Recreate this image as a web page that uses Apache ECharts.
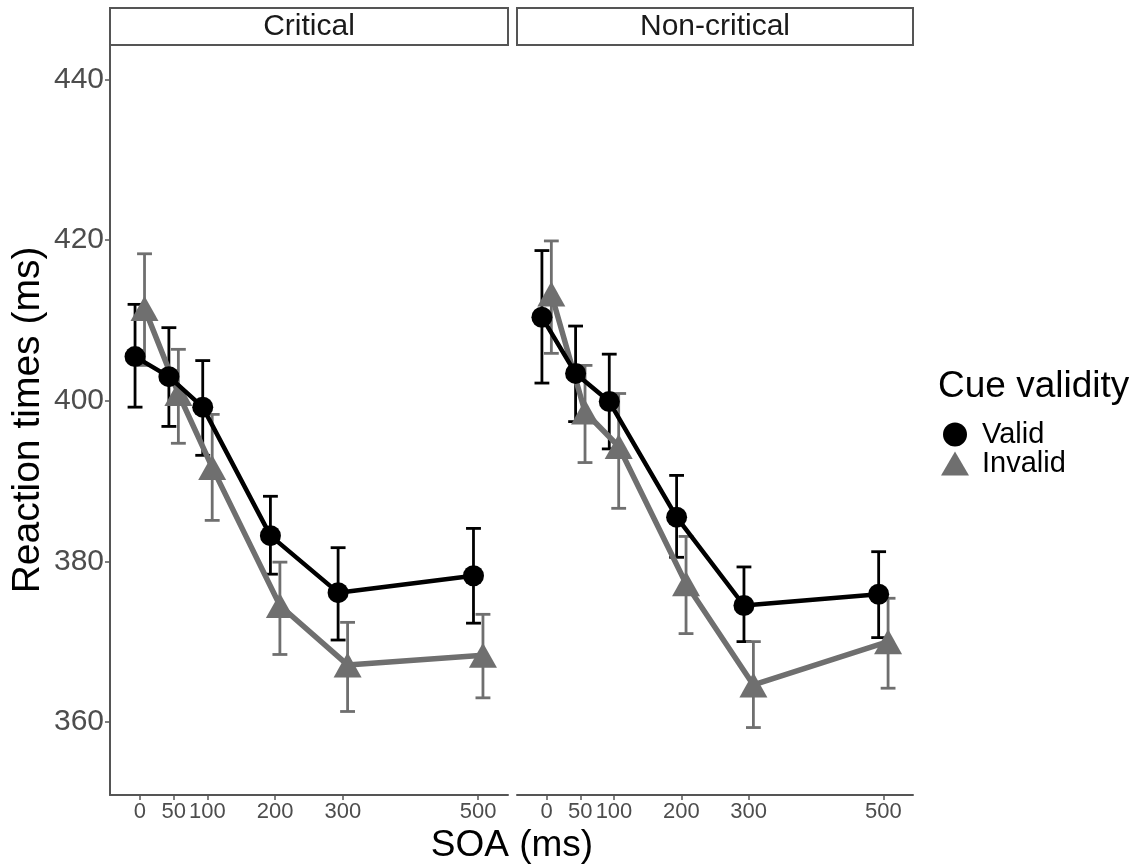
<!DOCTYPE html>
<html>
<head>
<meta charset="utf-8">
<script src="https://cdn.jsdelivr.net/npm/echarts@6/dist/echarts.min.js"></script>
<style>
  html, body { margin: 0; padding: 0; background: #fff; }
  #chart { width: 1137px; height: 867px; }
</style>
</head>
<body>
<div id="chart"></div>
<script>
// 数据
const soa = [0, 50, 100, 200, 300, 500];
const soaTicks = [0, 50, 100, 200, 300, 500];
const yTicks = [360, 380, 400, 420, 440];
const panels = ['Critical', 'Non-critical'];

const critValid = [405.5, 403.0, 399.2, 383.2, 376.1, 378.2];
const critValidLo = [399.2, 396.8, 393.2, 378.4, 370.2, 372.3];
const critValidHi = [412.0, 409.1, 405.0, 388.1, 381.7, 384.1];

const critInvalid = [411.5, 400.9, 391.7, 374.5, 367.1, 368.3];
const critInvalidLo = [404.4, 394.7, 385.1, 368.4, 361.3, 363.0];
const critInvalidHi = [418.3, 406.4, 398.3, 379.9, 372.4, 373.4];

const nonValid = [410.4, 403.4, 399.9, 385.5, 374.5, 375.9];
const nonValidLo = [402.2, 397.4, 394.0, 380.5, 370.0, 370.5];
const nonValidHi = [418.7, 409.3, 405.8, 390.7, 379.3, 381.2];

const nonInvalid = [413.3, 398.6, 394.3, 377.2, 364.6, 370.0];
const nonInvalidLo = [405.9, 392.3, 386.6, 371.0, 359.3, 364.2];
const nonInvalidHi = [419.9, 404.4, 400.9, 383.1, 370.0, 375.4];

const dodge = 7;      // position_dodge 偏移 (ms)
const capWidth = 22;  // 误差线帽宽 (ms)

const FONT = 'Liberation Sans, Arial, Helvetica, sans-serif';
const BLACK = '#000000';
const GREY = '#6f6f6f';
const AXIS = '#555555';

document.addEventListener('DOMContentLoaded', function () {
    initChart();
});

function pointData(values, shift) {
    return values.map(function (v, i) { return [soa[i] + shift, v]; });
}

function barData(lo, hi, shift) {
    return lo.map(function (v, i) { return [soa[i] + shift, v, hi[i]]; });
}

function errorBarRenderer(color) {
    return function (params, api) {
        const x = api.value(0);
        const lo = api.coord([x, api.value(1)]);
        const hi = api.coord([x, api.value(2)]);
        const half = api.coord([x + capWidth / 2, api.value(1)])[0] - lo[0];
        const style = { stroke: color, lineWidth: 2.8, fill: null };
        return {
            type: 'group',
            children: [
                { type: 'line', shape: { x1: lo[0], y1: lo[1], x2: hi[0], y2: hi[1] }, style: style },
                { type: 'line', shape: { x1: lo[0] - half, y1: lo[1], x2: lo[0] + half, y2: lo[1] }, style: style },
                { type: 'line', shape: { x1: hi[0] - half, y1: hi[1], x2: hi[0] + half, y2: hi[1] }, style: style }
            ]
        };
    };
}

function initChart() {
    const chartDom = document.getElementById('chart');
    const myChart = echarts.init(chartDom, null, { renderer: 'canvas' });

    const grids = [
        { left: 110, top: 45, width: 398, height: 750 },
        { left: 517, top: 45, width: 396, height: 750 }
    ];

    const xAxes = grids.map(function (g, i) {
        return {
            type: 'value',
            gridIndex: i,
            min: -44,
            max: 544,
            axisLine: { show: true, onZero: false, lineStyle: { color: AXIS, width: 2 } },
            axisTick: { show: true, length: 5, customValues: soaTicks, lineStyle: { color: AXIS, width: 1.5 } },
            axisLabel: { customValues: soaTicks, color: '#4d4d4d', fontSize: 22, fontFamily: FONT, margin: 6 },
            splitLine: { show: false }
        };
    });

    const yAxes = grids.map(function (g, i) {
        return {
            type: 'value',
            gridIndex: i,
            min: 350.9,
            max: 444.3,
            show: i === 0,
            name: i === 0 ? 'Reaction times (ms)' : '',
            nameLocation: 'middle',
            nameGap: 62,
            nameTextStyle: { color: '#000', fontSize: 39, fontFamily: FONT },
            axisLine: { show: true, onZero: false, lineStyle: { color: AXIS, width: 2 } },
            axisTick: { show: true, length: 5, customValues: yTicks, lineStyle: { color: AXIS, width: 1.5 } },
            axisLabel: { customValues: yTicks, color: '#4d4d4d', fontSize: 30, fontFamily: FONT, margin: 6 },
            splitLine: { show: false }
        };
    });

    const groups = [
        { panel: 0, name: 'Valid', vals: critValid, lo: critValidLo, hi: critValidHi, shift: -dodge },
        { panel: 0, name: 'Invalid', vals: critInvalid, lo: critInvalidLo, hi: critInvalidHi, shift: dodge },
        { panel: 1, name: 'Valid', vals: nonValid, lo: nonValidLo, hi: nonValidHi, shift: -dodge },
        { panel: 1, name: 'Invalid', vals: nonInvalid, lo: nonInvalidLo, hi: nonInvalidHi, shift: dodge }
    ];

    const series = [];
    groups.forEach(function (g) {
        const color = g.name === 'Valid' ? BLACK : GREY;
        series.push({
            name: g.name,
            type: 'custom',
            xAxisIndex: g.panel,
            yAxisIndex: g.panel,
            renderItem: errorBarRenderer(color),
            encode: { x: 0, y: [1, 2] },
            data: barData(g.lo, g.hi, g.shift),
            itemStyle: { color: color },
            z: 2,
            silent: true
        });
    });
    groups.forEach(function (g) {
        const valid = g.name === 'Valid';
        const color = valid ? BLACK : GREY;
        series.push({
            name: g.name,
            type: 'line',
            xAxisIndex: g.panel,
            yAxisIndex: g.panel,
            data: pointData(g.vals, g.shift),
            symbol: valid ? 'circle' : 'triangle',
            symbolSize: valid ? 21 : [28, 25],
            showAllSymbol: true,
            itemStyle: { color: color, borderWidth: 0 },
            lineStyle: { color: color, width: valid ? 4.5 : 5.5 },
            z: valid ? 4 : 3,
            animation: false
        });
    });

    // 分面标签
    const stripGraphics = [];
    grids.forEach(function (g, i) {
        stripGraphics.push({
            type: 'rect',
            shape: { x: g.left, y: 8, width: g.width, height: 37 },
            style: { fill: '#fff', stroke: AXIS, lineWidth: 2 }
        });
        stripGraphics.push({
            type: 'text',
            x: g.left + g.width / 2,
            y: 27,
            style: {
                text: panels[i],
                fill: '#1a1a1a',
                font: '30px ' + FONT,
                textAlign: 'center',
                textVerticalAlign: 'middle'
            }
        });
    });
    stripGraphics.push({
        type: 'text',
        x: 512,
        y: 846,
        style: {
            text: 'SOA (ms)',
            fill: '#000',
            font: '37px ' + FONT,
            textAlign: 'center',
            textVerticalAlign: 'middle'
        }
    });
    stripGraphics.push({
        type: 'text',
        x: 938,
        y: 387,
        style: {
            text: 'Cue validity',
            fill: '#000',
            font: '37px ' + FONT,
            textAlign: 'left',
            textVerticalAlign: 'middle'
        }
    });

    const option = {
        backgroundColor: '#fff',
        animation: false,
        grid: grids,
        xAxis: xAxes,
        yAxis: yAxes,
        legend: {
            orient: 'vertical',
            left: 936,
            top: 415,
            itemWidth: 28,
            itemHeight: 24,
            itemGap: 0,
            selectedMode: false,
            textStyle: { color: '#000', fontSize: 29, lineHeight: 29, fontFamily: FONT, padding: [0, 0, 0, 8] },
            data: [
                { name: 'Valid', icon: 'circle', itemStyle: { color: BLACK } },
                { name: 'Invalid', icon: 'triangle', itemStyle: { color: GREY } }
            ]
        },
        graphic: stripGraphics,
        series: series
    };

    myChart.setOption(option);

    window.addEventListener('resize', function () {
        myChart.resize();
    });
}
</script>
</body>
</html>
